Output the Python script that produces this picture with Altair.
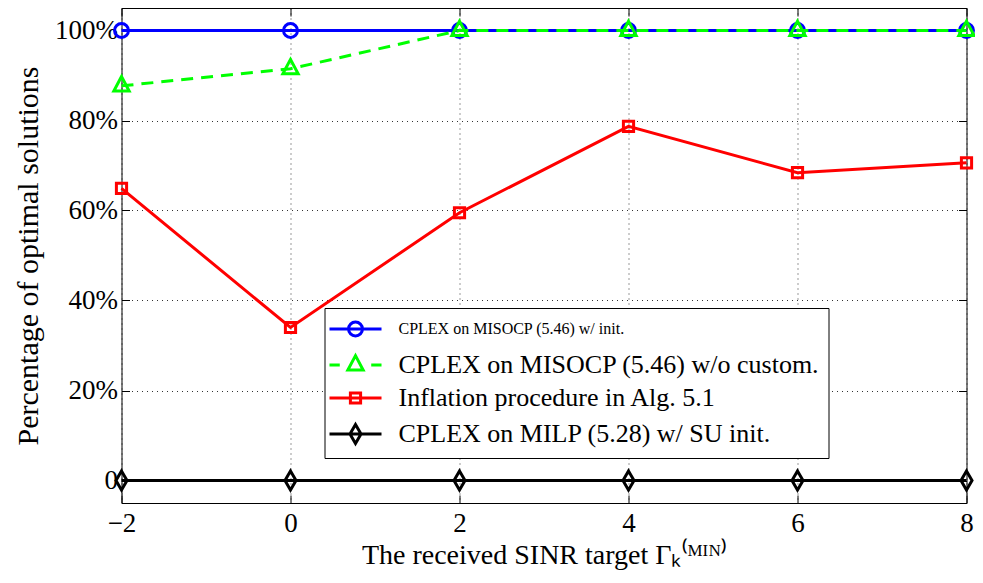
import altair as alt
import pandas as pd

# ---- data ----
x_values = [-2, 0, 2, 4, 6, 8]
series_names = [
    "CPLEX on MISOCP (5.46) w/ init.",
    "CPLEX on MISOCP (5.46) w/o custom.",
    "Inflation procedure in Alg. 5.1",
    "CPLEX on MILP (5.28) w/ SU init.",
]
blue_vals = [100, 100, 100, 100, 100, 100]
green_vals = [87.7, 91.5, 100, 100, 100, 100]
red_vals = [64.9, 34.0, 59.5, 78.7, 68.4, 70.6]
black_vals = [0, 0, 0, 0, 0, 0]
series_colors = ["#0000ff", "#00ff00", "#ff0000", "#000000"]
y_ticks = [0, 20, 40, 60, 80, 100]

all_vals = [blue_vals, green_vals, red_vals, black_vals]
rows = []
for name, vals in zip(series_names, all_vals):
    for xv, yv in zip(x_values, vals):
        rows.append({"series": name, "x": xv, "value": yv})
df = pd.DataFrame(rows)

# ---- marker shapes (units of sqrt(size)/2) ----
circle = "M-0.82,0A0.82,0.82,0,1,1,0.82,0A0.82,0.82,0,1,1,-0.82,0Z"
triangle = "M0,-1.1L0.9,0.6L-0.9,0.6Z"
square = "M-0.6,-0.6H0.6V0.6H-0.6Z"
diamond = "M0,-1.12L0.65,0L0,1.12L-0.65,0Z"
markers = [circle, triangle, square, diamond]
legend_paths = [
    "M-3.06,0H3.06" + circle,
    "M-3.06,0H-1.85M1.85,0H3.06" + triangle,
    "M-3.06,0H3.06" + square,
    "M-3.06,0H3.06" + diamond,
]

W, H = 845, 495
FONT = "Liberation Serif"

xscale = alt.Scale(domain=[-2, 8], nice=False, zero=False)
yscale = alt.Scale(domain=[-5, 105], nice=False, zero=False)

x_main = alt.Axis(
    values=x_values, ticks=False, domain=False, grid=True,
    labelExpr="datum.value < 0 ? '\u2212' + abs(datum.value) : datum.value",
    labelFontSize=27, labelPadding=7, labelFlush=False,
    title="The received SINR target \u0393\u2096\u207d\u1d39\u1d35\u1d3a\u207e",
    titleFontSize=28, titlePadding=5,
)
y_main = alt.Axis(
    values=y_ticks, ticks=False, domain=False, grid=True,
    labelExpr="datum.value == 0 ? '0' : datum.value + '%'",
    labelFontSize=27, labelPadding=4,
    title="Percentage of optimal solutions", titleFontSize=30, titlePadding=11,
)


def tick_axis(orient, offset, vals):
    return alt.Axis(orient=orient, offset=offset, values=vals, labels=False,
                    domain=False, grid=False, ticks=True, tickSize=8,
                    tickColor="#000", tickWidth=1, title=None)


layers = []
for i, (name, color, marker) in enumerate(zip(series_names, series_colors, markers)):
    if i == 0:
        xa, ya = x_main, y_main
    elif i == 1:
        xa, ya = tick_axis("top", -H, x_values), tick_axis("right", -W, y_ticks)
    elif i == 2:
        xa, ya = tick_axis("bottom", -H, x_values), tick_axis("left", -W, y_ticks)
    else:
        xa, ya = None, None
    base = alt.Chart(df).transform_filter(alt.datum.series == name)
    line_kwargs = dict(color=color, strokeWidth=3)
    if i == 1:
        line_kwargs["strokeDash"] = [12, 8]
    line = base.mark_line(**line_kwargs).encode(
        x=alt.X("x:Q", scale=xscale, axis=xa),
        y=alt.Y("value:Q", scale=yscale, axis=ya),
    )
    pts = base.mark_point(filled=False, shape=marker, size=289, color=color,
                          strokeWidth=3, opacity=1).encode(
        x=alt.X("x:Q", scale=xscale, axis=None),
        y=alt.Y("value:Q", scale=yscale, axis=None),
    )
    layers += [line, pts]

legend_fs = {"expr": "datum.index == 0 ? 16 : 26"}
legend_lbl = "datum.index == 1 ? datum.label + '\u00a0\u00a0\u00a0\u00a0\u00a0' : datum.label"
legend_layer = alt.Chart(df).transform_filter("false").mark_point(
    filled=False, strokeWidth=3
).encode(
    x=alt.X("x:Q", scale=xscale, axis=None),
    y=alt.Y("value:Q", scale=yscale, axis=None),
    color=alt.Color("series:N", scale=alt.Scale(domain=series_names, range=series_colors),
                    legend=alt.Legend(title=None, labelFontSize=legend_fs, labelExpr=legend_lbl)),
    shape=alt.Shape("series:N", scale=alt.Scale(domain=series_names, range=legend_paths),
                    legend=alt.Legend(title=None, labelFontSize=legend_fs, labelExpr=legend_lbl)),
)
layers.append(legend_layer)

chart = alt.layer(*layers).resolve_axis(x="independent", y="independent").properties(
    width=W, height=H,
    autosize=alt.AutoSizeParams(type="none"),
    padding={"left": 113.5, "top": 0, "right": 8, "bottom": 72},
    background="white",
).configure_view(stroke="#000", strokeWidth=1).configure_axis(
    labelFont=FONT, titleFont=FONT, labelColor="#000", titleColor="#000",
    titleFontWeight="normal", gridColor="#000", gridDash=[1, 4], gridOpacity=0.8,
    gridWidth=1,
).configure_legend(
    orient="none", legendX=203, legendY=300, padding=8,
    fillColor="white", strokeColor="#000", strokeWidth=1,
    labelFont=FONT, labelColor="#000", symbolSize=289, symbolStrokeWidth=3,
    symbolOpacity=1, symbolOffset=10, labelOffset=30, rowPadding=7,
    labelLimit=0,
)

chart.save("out.html", embed_options={"renderer": "svg", "actions": False})
